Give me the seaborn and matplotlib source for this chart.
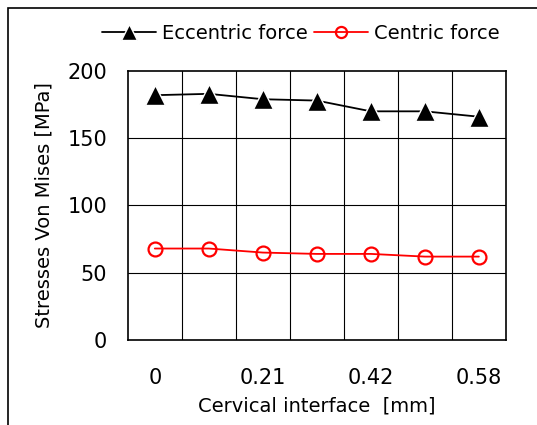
import numpy as np
import pandas as pd
import matplotlib
matplotlib.use("Agg")
import matplotlib.pyplot as plt
import seaborn as sns
from matplotlib.patches import Rectangle

# data
positions = ["0", "0.07", "0.21", "0.28", "0.42", "0.49", "0.58"]
tick_labels = ["0", "", "0.21", "", "0.42", "", "0.58"]
eccentric = [182, 183, 179, 178, 170, 170, 166]
centric = [68, 68, 65, 64, 64, 62, 62]

df = pd.DataFrame({
    "pos": list(range(len(positions))) * 2,
    "stress": eccentric + centric,
    "load": ["Eccentric force"] * len(positions) + ["Centric force"] * len(positions),
})

sns.set_style("white")
plt.rcParams["font.family"] = ["DejaVu Sans"]
plt.rcParams.update({"text.color": "black", "axes.labelcolor": "black",
                     "xtick.color": "black", "ytick.color": "black"})

fig = plt.figure(figsize=(5.37, 4.25), dpi=100)
ax = fig.add_axes([0.238, 0.2, 0.704, 0.633])

sns.lineplot(data=df, x="pos", y="stress", hue="load", style="load",
             palette={"Eccentric force": "black", "Centric force": "red"},
             markers={"Eccentric force": "^", "Centric force": "o"},
             dashes=False, ax=ax, linewidth=1.3, markersize=10,
             markeredgewidth=1.6)

# hollow circles for centric, bigger triangles for eccentric
for line in ax.get_lines():
    if line.get_color() == "red":
        line.set_markerfacecolor("none")
        line.set_markeredgecolor("red")
    elif line.get_color() == "black":
        line.set_markersize(14)
        line.set_markeredgewidth(1.0)

ax.set_xlim(-0.5, len(positions) - 0.5)
ax.set_ylim(0, 200)
ax.set_yticks([0, 50, 100, 150, 200])
ax.set_xticks(range(len(positions)))
ax.set_xticklabels(tick_labels)
ax.tick_params(axis="x", labelsize=15, length=0, pad=20)
ax.tick_params(axis="y", labelsize=15, length=0, pad=15)

# grid: horizontal at y ticks, vertical at category boundaries
for yv in [50, 100, 150]:
    ax.axhline(yv, color="black", lw=0.8, zorder=0)
for xv in np.arange(0.5, len(positions) - 0.5, 1):
    ax.axvline(xv, color="black", lw=0.8, zorder=0)
for s in ax.spines.values():
    s.set_visible(True)
    s.set_color("black")
    s.set_linewidth(1.2)

ax.set_xlabel("Cervical interface  [mm]", fontsize=14, labelpad=6)
ax.set_ylabel("Stresses Von Mises [MPa]", fontsize=14, labelpad=10)

h, l = ax.get_legend_handles_labels()
ax.legend(h, l, loc="center", bbox_to_anchor=(0.56, 0.922), bbox_transform=fig.transFigure,
          ncol=2, frameon=False, fontsize=14, handlelength=2.8, columnspacing=0.3,
          handletextpad=0.3)
for hd in ax.get_legend().legend_handles:
    if hd.get_color() == "black":
        hd.set_markersize(11)
    else:
        hd.set_markersize(8)

fig.patches.append(Rectangle((8 / 537, -0.1), 1.2, 1 - 8 / 425 + 0.1, transform=fig.transFigure,
                             fill=False, edgecolor="black", lw=1.2))

fig.savefig("out.png", dpi=100)
